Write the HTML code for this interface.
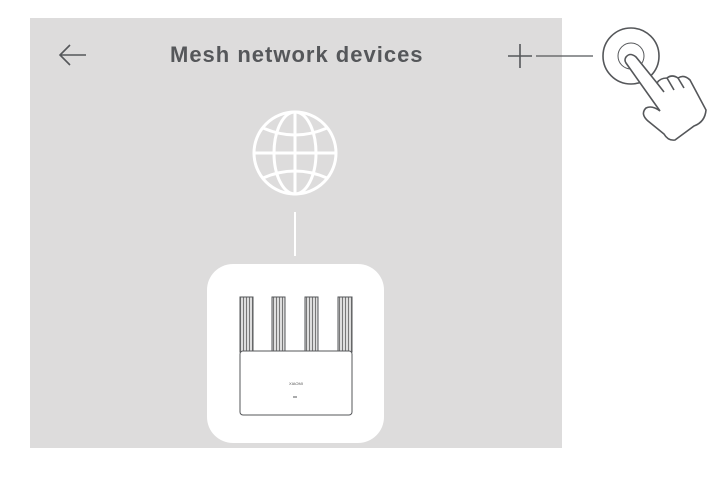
<!DOCTYPE html>
<html><head><style>
body{margin:0;width:724px;height:486px;background:#fff;position:relative;overflow:hidden;font-family:"Liberation Sans",sans-serif}
.panel{position:absolute;left:30px;top:18px;width:532px;height:430px;background:#dddcdc}
.title{position:absolute;left:170px;top:42px;font-size:22px;font-weight:bold;color:#55575a;letter-spacing:1px}
</style></head><body>
<div class="panel"></div>
<div class="title">Mesh network devices</div>
<svg width="724" height="486" style="position:absolute;left:0;top:0">
<defs>
<pattern id="st" width="3" height="10" patternUnits="userSpaceOnUse">
<rect width="3" height="10" fill="#ddd"/><rect width="1" height="10" fill="#777"/>
</pattern>
</defs>
<g stroke="#55575a" stroke-width="1.6" fill="none">
<path d="M60 55 H86 M70 45 L60 55 L70 65"/>
<path d="M508 56 H532 M520 44 V68"/>
<line x1="536" y1="56" x2="593" y2="56" stroke-width="1.2"/>
<circle cx="631" cy="56" r="28"/>
<circle cx="631" cy="56" r="13" stroke-width="1"/>
<path d="M626 57 Q630 52 636 57 L657 83 Q660 78 667 78 Q672 74 678 78 Q684 74 690 80 L706 110 Q705 122 694 126 L675 140 Q668 141 664 134 L648 121 Q640 114 646 108 Q652 105 660 111 L626 63 Q624 60 626 57 Z" fill="#fff"/>
<path d="M657 83 L664 92 M667 78 L674 90 M678 78 L684 88"/>
</g>
<g stroke="#fff" stroke-width="3" fill="none">
<circle cx="295" cy="153" r="41"/>
<ellipse cx="295" cy="153" rx="21" ry="41"/>
<line x1="295" y1="112" x2="295" y2="194"/>
<line x1="254" y1="153" x2="336" y2="153"/>
<path d="M263 128 Q295 142 327 128 M263 178 Q295 164 327 178"/>
<line x1="295" y1="212" x2="295" y2="256" stroke-width="2"/>
</g>
<rect x="207" y="264" width="177" height="179" rx="26" fill="#fff"/>
<g stroke="#55575a" stroke-width="1" fill="#fff">
<rect x="240" y="297" width="13" height="55" fill="url(#st)"/>
<rect x="272" y="297" width="13" height="55" fill="url(#st)"/>
<rect x="305" y="297" width="13" height="55" fill="url(#st)"/>
<rect x="338" y="297" width="14" height="55" fill="url(#st)"/>
<rect x="240" y="351" width="112" height="64" rx="3"/>
<line x1="293" y1="397" x2="297" y2="397"/>
</g>
<text x="296" y="385" font-size="4" fill="#555" text-anchor="middle">XIAOMI</text>
</svg>
</body></html>
